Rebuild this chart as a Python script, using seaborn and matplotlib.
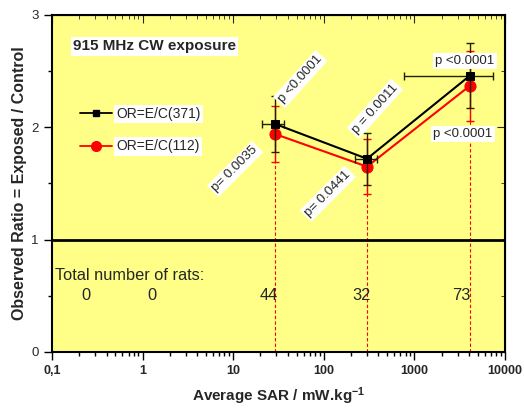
import matplotlib
matplotlib.use("Agg")
import matplotlib.pyplot as plt
import seaborn as sns
import pandas as pd
from matplotlib.lines import Line2D

sns.set_style("ticks")
plt.rcParams['font.family'] = ['Liberation Sans', 'DejaVu Sans']
plt.rcParams['mathtext.default'] = 'bf'
plt.rcParams['mathtext.fontset'] = 'custom'
plt.rcParams['mathtext.bf'] = 'Liberation Sans:bold'

# данные
sar = [29, 300, 4100]
sar_lo = [21, 221, 774]
sar_hi = [36, 384, 7430]
or_371 = [2.03, 1.72, 2.46]
err_371 = [0.25, 0.23, 0.29]
or_112 = [1.94, 1.65, 2.37]
err_112 = [0.25, 0.245, 0.31]

rats = ['0', '0', '44', '32', '73']
rats_x = [0.24, 1.26, 25, 262, 3330]

x_ticks = [0.1, 1, 10, 100, 1000, 10000]
x_ticklabels = ['0,1', '1', '10', '100', '1000', '10000']

df = pd.DataFrame({'sar': sar, 'or371': or_371, 'or112': or_112})

fig = plt.figure(figsize=(5.24, 4.08), dpi=100)
ax = fig.add_axes([0.0992, 0.1373, 0.8645, 0.826])
ax.set_facecolor('#FFFF88')

ax.set_xscale('log')
ax.set_xlim(0.1, 10000)
ax.set_ylim(0, 3)

ax.axhline(1, color='black', lw=2, zorder=2)
ax.vlines(df['sar'], 0, df['or112'], colors='red', linestyles=(0, (3, 2)), lw=0.8, zorder=1)

# красная серия
ax.errorbar(df['sar'], df['or112'], yerr=err_112, fmt='none', ecolor='red',
            elinewidth=1, capsize=3, zorder=3)
sns.lineplot(data=df, x='sar', y='or112', ax=ax, color='red', marker='o',
             markersize=8, markeredgecolor='red', lw=1.5, zorder=4)

# чёрная серия
xerr = [[s - lo for s, lo in zip(sar, sar_lo)], [hi - s for s, hi in zip(sar, sar_hi)]]
ax.errorbar(df['sar'], df['or371'], yerr=err_371, xerr=xerr, fmt='none',
            ecolor='#222200', elinewidth=1, capsize=3, zorder=5)
sns.lineplot(data=df, x='sar', y='or371', ax=ax, color='black', marker='s',
             markersize=6, markeredgecolor='black', lw=1.5, zorder=6)

box = dict(facecolor='white', edgecolor='none', pad=1.5)
ax.text(0.17, 2.72, '915 MHz CW exposure', fontsize=11, fontweight='bold',
        va='center', ha='left', bbox=box)

handles = [Line2D([], [], color='black', marker='s', markersize=5, lw=1.3),
           Line2D([], [], color='red', marker='o', markersize=7, lw=1.3)]
leg = ax.legend(handles, ['OR=E/C(371)', 'OR=E/C(112)'], loc='upper left',
                bbox_to_anchor=(0.035, 0.765), frameon=False, fontsize=10,
                handlelength=2.3, handletextpad=0.3, labelspacing=1.35)
for t in leg.get_texts():
    t.set_bbox(box)

p_kw = dict(fontsize=9.5, ha='center', va='center', bbox=box, zorder=7)
ax.text(55, 2.43, 'p <0.0001', rotation=48, **p_kw)
ax.text(10.5, 1.63, 'p= 0.0035', rotation=45, **p_kw)
ax.text(367, 2.165, 'p = 0.0011', rotation=48, **p_kw)
ax.text(111, 1.41, 'p= 0.0441', rotation=45, **p_kw)
ax.text(3610, 2.59, 'p <0.0001', **p_kw)
ax.text(3430, 1.94, 'p <0.0001', **p_kw)

ax.text(0.108, 0.68, 'Total number of rats:', fontsize=11.8, ha='left', va='center')
for xr, n in zip(rats_x, rats):
    ax.text(xr, 0.5, n, fontsize=11.8, ha='center', va='center')

ax.set_xticks(x_ticks)
ax.set_xticklabels(x_ticklabels, fontweight='bold', fontsize=9)
ax.set_yticks([0, 1, 2, 3])
ax.set_yticks([0.5, 1.5, 2.5], minor=True)
ax.tick_params(axis='y', labelsize=9.5)
ax.tick_params(which='major', direction='out', length=6, width=1, color='black')
ax.tick_params(which='minor', direction='out', length=3, width=1, color='black')

top = ax.secondary_xaxis('top')
top.set_xticks(x_ticks)
top.tick_params(which='both', direction='in', labeltop=False)
top.tick_params(which='major', length=6)
top.tick_params(which='minor', length=3)
right = ax.secondary_yaxis('right')
right.set_yticks([0, 1, 2, 3])
right.set_yticks([0.5, 1.5, 2.5], minor=True)
right.tick_params(which='both', direction='in', labelright=False)
right.tick_params(which='major', length=6)
right.tick_params(which='minor', length=3)

for sp in ax.spines.values():
    sp.set_linewidth(1.5)
    sp.set_color('black')

ax.set_xlabel('Average SAR / mW.kg$^{-1}$', fontsize=11, fontweight='bold', labelpad=6)
ax.set_ylabel('Observed Ratio = Exposed / Control', fontsize=11.5, fontweight='bold', labelpad=3)

fig.savefig('out.png', dpi=100)
